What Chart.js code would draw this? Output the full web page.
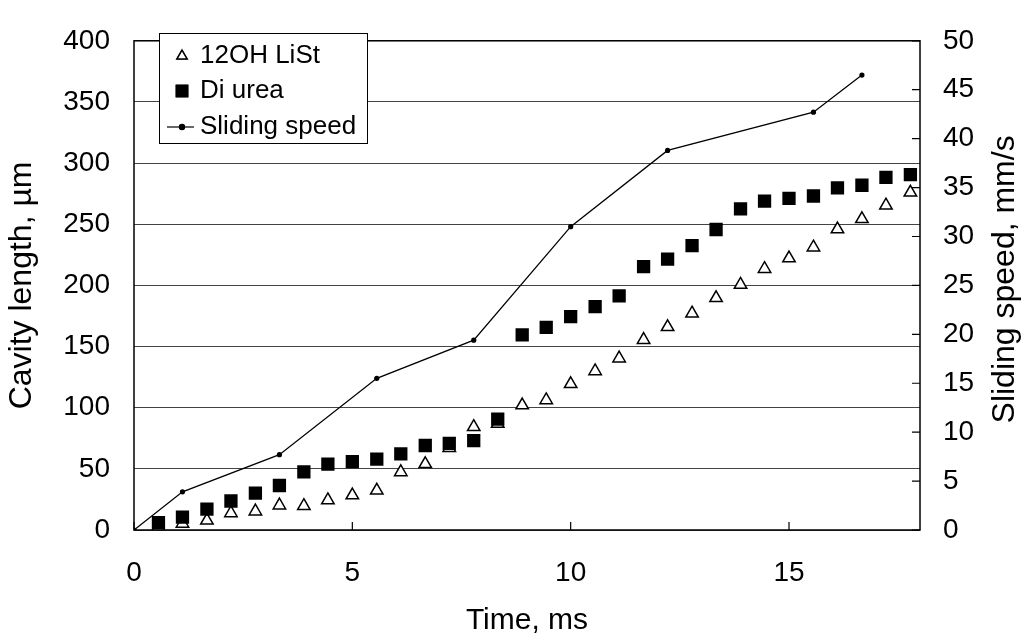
<!DOCTYPE html>
<html>
<head>
<meta charset="utf-8">
<script src="https://cdn.jsdelivr.net/npm/chart.js@4/dist/chart.umd.min.js"></script>
<style>
  body { margin: 0; background: #fff; }
</style>
</head>
<body>
<canvas id="myChart" width="1025" height="639"></canvas>
<script>
// time of each frame, ms
var frameTimes = [0.56, 1.11, 1.67, 2.22, 2.78, 3.33, 3.89, 4.44, 5.00, 5.56, 6.11, 6.67, 7.22, 7.78, 8.33, 8.89,
                  9.44, 10.00, 10.56, 11.11, 11.67, 12.22, 12.78, 13.33, 13.89, 14.44, 15.00, 15.56, 16.11, 16.67, 17.22, 17.78];
// cavity length, um
var lithiumLength = [2.6, 5.2, 7.8, 13.8, 15.3, 20.2, 19.7, 24.4, 28.4, 32.3, 47.4, 54.0, 67.2, 84.3, 86.9, 102.0,
                     106.2, 119.4, 129.9, 140.4, 155.5, 166.0, 177.1, 189.7, 200.6, 213.5, 222.2, 231.1, 245.9, 254.3, 265.4, 276.0];
var ureaLength = [6.1, 10.5, 17.1, 23.7, 30.1, 36.4, 47.5, 53.8, 55.9, 58.0, 62.2, 69.1, 70.9, 73.0, 90.7, 159.5,
                  165.6, 174.5, 182.6, 191.4, 215.4, 221.5, 232.5, 245.7, 262.6, 268.9, 271.1, 273.1, 279.8, 281.9, 288.4, 290.5];
// sliding speed, mm/s
var speedTimes = [0, 1.11, 3.33, 5.56, 7.78, 10.00, 12.22, 15.56, 16.67];
var speedValues = [0, 3.9, 7.7, 15.5, 19.4, 31.0, 38.8, 42.7, 46.5];

// tick labels
var xTicks = [0, 5, 10, 15];
var yTicks = [0, 50, 100, 150, 200, 250, 300, 350, 400];
var y2Ticks = [0, 5, 10, 15, 20, 25, 30, 35, 40, 45, 50];

var FONT = "'Liberation Sans', Arial, sans-serif";

function pairs(xs, ys) {
    var out = [];
    for (var i = 0; i < xs.length; i++) {
        out.push({x: xs[i], y: ys[i]});
    }
    return out;
}

function setTicks(list) {
    return function(scale) {
        scale.ticks = list.map(function(v) { return {value: v}; });
    };
}

// box round the plot, inward tick marks, own legend, right title
var decor = {
    id: 'decor',
    afterDatasetsDraw: function(chart) {
        var ctx = chart.ctx;
        var a = chart.chartArea;
        var x = chart.scales.x, y2 = chart.scales.y2;
        ctx.save();
        ctx.strokeStyle = '#000';
        ctx.lineWidth = 1.5;
        ctx.strokeRect(a.left, a.top, a.right - a.left, a.bottom - a.top);
        ctx.lineWidth = 1.2;
        ctx.beginPath();
        xTicks.forEach(function(v) {
            var px = x.getPixelForValue(v);
            ctx.moveTo(px, a.bottom);
            ctx.lineTo(px, a.bottom - 8);
        });
        y2Ticks.forEach(function(v) {
            var py = y2.getPixelForValue(v);
            ctx.moveTo(a.right, py);
            ctx.lineTo(a.right - 8, py);
        });
        ctx.stroke();
        ctx.restore();
    },
    afterDraw: function(chart) {
        var ctx = chart.ctx;
        var a = chart.chartArea;
        ctx.save();

        // legend
        var bx = 159, by = 33, bw = 208, bh = 110;
        ctx.fillStyle = '#fff';
        ctx.fillRect(bx, by, bw, bh);
        ctx.strokeStyle = '#000';
        ctx.lineWidth = 1;
        ctx.strokeRect(bx + 0.5, by + 0.5, bw, bh);
        ctx.font = '26px ' + FONT;
        ctx.textBaseline = 'middle';
        ctx.textAlign = 'left';
        var rows = [56, 91, 127];
        chart.data.datasets.forEach(function(ds, i) {
            var ry = rows[i];
            var cx = 182;
            if (ds.showLine) {
                ctx.strokeStyle = '#000';
                ctx.lineWidth = 1.2;
                ctx.beginPath();
                ctx.moveTo(167, ry);
                ctx.lineTo(194, ry);
                ctx.stroke();
            }
            Chart.helpers.drawPoint(ctx, {
                pointStyle: ds.pointStyle,
                radius: ds.legendRadius,
                borderWidth: ds.borderWidth
            }, cx, ry);
            ctx.fillStyle = ds.pointBackgroundColor;
            ctx.strokeStyle = ds.pointBorderColor;
            ctx.lineWidth = ds.pointBorderWidth;
            ctx.fill();
            if (ds.pointBorderWidth > 0) ctx.stroke();
            ctx.fillStyle = '#000';
            ctx.fillText(ds.label, 200, ry);
        });

        // right axis title, reads bottom to top
        ctx.font = '32px ' + FONT;
        ctx.textAlign = 'center';
        ctx.fillStyle = '#000';
        ctx.translate(1005, (a.top + a.bottom) / 2 - 6);
        ctx.rotate(-Math.PI / 2);
        ctx.fillText('Sliding speed, mm/s', 0, 0);
        ctx.restore();
    }
};

var ctx = document.getElementById('myChart').getContext('2d');
var chart = new Chart(ctx, {
    type: 'scatter',
    data: {
        datasets: [{
            label: '12OH LiSt',
            data: pairs(frameTimes, lithiumLength),
            yAxisID: 'y',
            pointStyle: 'triangle',
            pointRadius: 7.2,
            legendRadius: 6,
            pointBackgroundColor: '#fff',
            pointBorderColor: '#000',
            pointBorderWidth: 1.5,
            borderWidth: 1.5,
            showLine: false,
            order: 2
        }, {
            label: 'Di urea',
            data: pairs(frameTimes, ureaLength),
            yAxisID: 'y',
            pointStyle: 'rect',
            pointRadius: 9.4,
            legendRadius: 9,
            pointBackgroundColor: '#000',
            pointBorderColor: '#000',
            pointBorderWidth: 0,
            borderWidth: 0,
            showLine: false,
            order: 1
        }, {
            label: 'Sliding speed',
            data: pairs(speedTimes, speedValues),
            yAxisID: 'y2',
            pointStyle: 'circle',
            pointRadius: 2.6,
            legendRadius: 2.6,
            pointBackgroundColor: '#000',
            pointBorderColor: '#000',
            pointBorderWidth: 0,
            borderColor: '#000',
            borderWidth: 1.3,
            showLine: true,
            tension: 0,
            order: 0
        }]
    },
    options: {
        responsive: false,
        animation: false,
        events: [],
        layout: { padding: { top: 24, left: 0, right: 0, bottom: 0 } },
        plugins: {
            legend: { display: false },
            tooltip: { enabled: false }
        },
        scales: {
            x: {
                type: 'linear',
                position: 'bottom',
                min: 0,
                max: 18,
                afterBuildTicks: setTicks(xTicks),
                afterFit: function(s) { s.height = 109; },
                grid: { display: false, drawTicks: false },
                border: { display: false },
                ticks: { color: '#000', font: { family: FONT, size: 28 }, padding: 26, maxRotation: 0 },
                title: { display: true, text: 'Time, ms', color: '#000', font: { family: FONT, size: 30 }, padding: { top: 0, bottom: 0 } }
            },
            y: {
                position: 'left',
                min: 0,
                max: 400,
                afterBuildTicks: setTicks(yTicks),
                afterFit: function(s) { s.width = 134; },
                grid: { color: '#444', lineWidth: 1, drawTicks: false },
                border: { display: false },
                ticks: { color: '#000', font: { family: FONT, size: 28 }, padding: 24 },
                title: { display: true, text: 'Cavity length, \u00b5m', color: '#000', font: { family: FONT, size: 32 }, padding: { top: 3, bottom: 0 } }
            },
            y2: {
                position: 'right',
                min: 0,
                max: 50,
                afterBuildTicks: setTicks(y2Ticks),
                afterFit: function(s) { s.width = 105; },
                grid: { display: false, drawTicks: false },
                border: { display: false },
                ticks: { color: '#000', font: { family: FONT, size: 28 }, padding: 23 }
            }
        }
    },
    plugins: [decor]
});
</script>
</body>
</html>
